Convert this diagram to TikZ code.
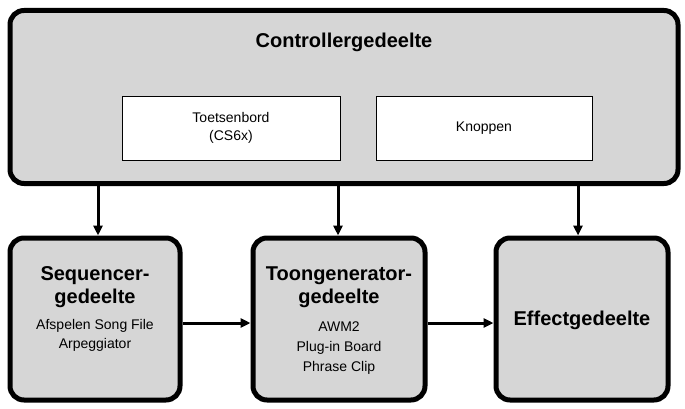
\documentclass[tikz,border=0pt]{standalone}
\usepackage{fontspec}
\setmainfont{Liberation Sans}
\usetikzlibrary{arrows.meta,positioning}
\begin{document}
\begin{tikzpicture}[x=1pt,y=-1pt,>={Triangle[length=10pt,width=9pt]}]
  \tikzstyle{block}=[draw=black,line width=5pt,rounded corners=14pt,fill=black!16,
                     inner sep=0pt,align=center]
  \tikzstyle{inner}=[draw=black,line width=0.8pt,fill=white,inner sep=0pt,
                     align=center,font=\fontsize{14}{18}\selectfont]
  \tikzstyle{big}=[font=\fontsize{20}{23}\selectfont\bfseries]
  \tikzstyle{small}=[font=\fontsize{14}{19}\selectfont]
  \tikzstyle{conn}=[->,line width=3pt]

  \useasboundingbox (0,0) rectangle (685,409);

  \node[block,minimum width=668pt,minimum height=173pt] (ctrl) at (344,97) {};
  \node[big,anchor=north] (ctrltitle) at (344,29) {Controllergedeelte};
  \node[inner,minimum width=218pt,minimum height=64pt] (keys) at (231,128)
       {Toetsenbord\\(CS6x)};
  \node[inner,minimum width=216pt,minimum height=64pt] (knobs) at (484,128)
       {Knoppen};

  \node[block,minimum width=170pt,minimum height=162pt] (seq) at (95,319) {};
  \node[block,minimum width=172pt,minimum height=162pt] (tone) at (339,319) {};
  \node[block,minimum width=172pt,minimum height=162pt] (fx) at (582,319) {};

  \node[big,align=center] (seqtitle) at (95,287) {Sequencer-\\gedeelte};
  \node[small,align=center] (seqtext) at (95,335) {Afspelen Song File\\Arpeggiator};
  \node[big,align=center] (tonetitle) at (339,287) {Toongenerator-\\gedeelte};
  \node[small,align=center,font=\fontsize{14}{20}\selectfont] (tonetext) at (339,348)
       {AWM2\\Plug-in Board\\Phrase Clip};
  \node[big] (fxtitle) at (582,320) {Effectgedeelte};

  \coordinate (c1) at (98,186);
  \coordinate (c2) at (338,186);
  \coordinate (c3) at (578,186);
  \draw[conn] (c1) -- (c1 |- seq.north);
  \draw[conn] (c2) -- (c2 |- tone.north);
  \draw[conn] (c3) -- (c3 |- fx.north);
  \draw[conn] (seq.east |- 0,323) -- (tone.west |- 0,323);
  \draw[conn] (tone.east |- 0,323) -- (fx.west |- 0,323);
\end{tikzpicture}
\end{document}
